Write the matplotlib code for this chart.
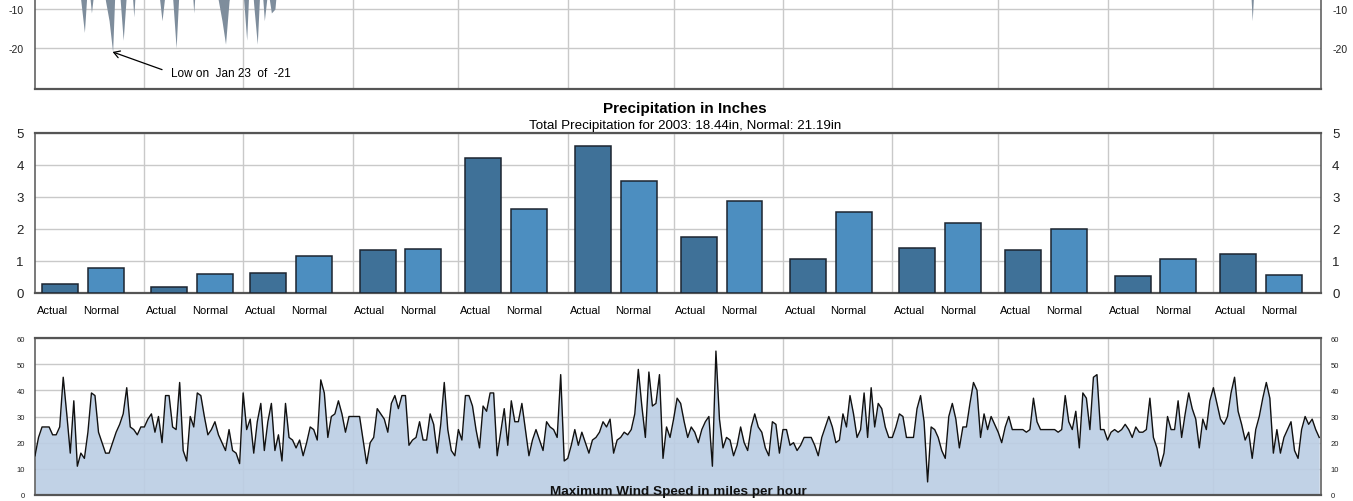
import numpy as np
import matplotlib
matplotlib.use("Agg")
import matplotlib.pyplot as plt

plt.rcParams['font.family'] = ['Liberation Sans', 'DejaVu Sans']
plt.rcParams['axes.unicode_minus'] = False

# ---------------------------------------------------------------- data
month_days = [31, 28, 31, 30, 31, 30, 31, 31, 30, 31, 30, 31]

# Daily low temperatures (deg F) for the cold part of the year
jan_lows = [2, 0, -3, 1, -2, 0, 3, -1, 2, -4, -1, -5, 0, -8, -16, -2, -11, -3, 0, -2,
            -8, -13, -21, 3, -6, -18, -5, 2, -12, 3, 1]
feb_lows = [0, -4, 2, -1, -5, -13, -5, 0, -7, -20, -2, 4, 1, 3, -11, 3, 5, 0, -3, 2,
            -3, -8, -13, -19, -8, -2, 1, -2]
mar_lows = [-6, -18, 3, -9, -19, 0, -13, -5, -11, -10, 0, 2, 5, 8, 3, 10, 12, 6, 9, 14,
            11, 15, 18, 13, 16, 20, 17, 22, 19, 24, 21]
dec_lows = [12, 8, 15, 10, 6, 3, 9, 14, 7, 2, 5, -13, 4, 10, 16, 12, 8, 11, 18, 14,
            9, 5, 1, 7, 13, 17, 10, 6, 12, 15, 9]
record_low_label = "Low on  Jan 23  of  -21"
record_low_day = 22      # Jan 23, zero-based day of year
record_low_value = -21

# Monthly precipitation (inches)
precip_actual = [0.28, 0.18, 0.64, 1.35, 4.23, 4.58, 1.74, 1.07, 1.41, 1.35, 0.53, 1.21]
precip_normal = [0.79, 0.60, 1.16, 1.37, 2.62, 3.51, 2.87, 2.53, 2.20, 1.99, 1.07, 0.57]
precip_total = 18.44
precip_total_normal = 21.19
precip_year = 2003

# Daily maximum wind speed (mph)
jan_wind = [15, 22, 26, 26, 26, 23, 23, 26, 45, 31, 16, 36, 11, 16, 14, 24, 39, 38, 24, 20,
            16, 16, 20, 24, 27, 31, 41, 26, 25, 23, 26]
feb_wind = [26, 29, 31, 24, 30, 20, 38, 38, 26, 25, 43, 17, 13, 30, 26, 39, 38, 30, 23, 25,
            28, 23, 20, 17, 25, 17, 16, 12]
mar_wind = [39, 25, 29, 16, 28, 35, 17, 28, 35, 17, 23, 13, 35, 22, 21, 18, 21, 15, 20, 26,
            25, 21, 44, 39, 22, 30, 31, 36, 31, 24, 30]
apr_wind = [30, 30, 30, 21, 12, 20, 22, 33, 31, 29, 24, 35, 38, 33, 38, 38, 19, 21, 22, 28,
            21, 21, 31, 27, 16, 27, 43, 25, 17, 15]
may_wind = [25, 21, 38, 38, 34, 25, 18, 34, 32, 39, 39, 15, 24, 33, 19, 36, 28, 28, 35, 25,
            15, 21, 25, 21, 17, 28, 26, 25, 22, 46, 13]
jun_wind = [14, 19, 25, 19, 24, 20, 16, 21, 22, 24, 28, 26, 29, 16, 21, 22, 24, 23, 25, 31,
            48, 34, 22, 47, 34, 35, 46, 14, 26, 22]
jul_wind = [29, 37, 35, 28, 22, 26, 24, 20, 25, 28, 30, 11, 55, 29, 18, 22, 21, 15, 19, 26,
            20, 17, 26, 31, 26, 24, 18, 15, 28, 27, 16]
aug_wind = [25, 25, 19, 20, 17, 19, 22, 22, 22, 19, 15, 22, 26, 30, 26, 20, 21, 31, 26, 38,
            31, 22, 25, 39, 22, 41, 26, 35, 33, 26, 22]
sep_wind = [22, 26, 31, 30, 22, 22, 22, 33, 38, 28, 5, 26, 25, 22, 17, 14, 30, 35, 29, 18,
            26, 26, 35, 43, 40, 22, 31, 25, 30, 27]
oct_wind = [24, 20, 26, 30, 25, 25, 25, 25, 24, 25, 37, 28, 25, 25, 25, 25, 25, 24, 25, 38,
            28, 25, 32, 18, 39, 37, 25, 45, 46, 25, 25]
nov_wind = [21, 24, 25, 24, 25, 27, 25, 22, 26, 24, 24, 25, 37, 22, 18, 11, 16, 30, 25, 25,
            36, 22, 31, 39, 33, 29, 18, 29, 25, 36]
dec_wind = [41, 35, 29, 27, 30, 39, 45, 32, 27, 21, 24, 14, 25, 30, 37, 43, 37, 16, 25, 16,
            22, 25, 28, 17, 14, 25, 30, 27, 29, 25, 22]

# ---------------------------------------------------------------- styling
C_TEMP = '#7e8d9c'
C_ACTUAL = '#3f7198'
C_NORMAL = '#4c8ec0'
C_EDGE = '#1c2530'
C_WIND_FILL = '#bccee4'
C_GRID = '#c9c9c9'
C_SPINE = '#555555'

W, H = 1353, 502
fig = plt.figure(figsize=(W / 100, H / 100), dpi=100)
fig.patch.set_facecolor('white')


def panel(left, top, right, bottom):
    return fig.add_axes([left / W, 1 - bottom / H, (right - left) / W, (bottom - top) / H])


month_starts = np.concatenate([[0], np.cumsum(month_days)[:-1]])
XMAX = 364.5


def base_style(ax, ylim, yticks, labelsize, pad, weight='normal'):
    ax.set_xlim(0, XMAX)
    ax.set_ylim(*ylim)
    ax.set_xticks(month_starts[1:])
    ax.set_yticks(yticks)
    ax.tick_params(axis='x', length=0, labelbottom=False)
    ax.tick_params(axis='y', length=0, left=False, right=False,
                   labelleft=True, labelright=True, labelsize=labelsize, pad=pad,
                   labelcolor='#222222')
    for lab in ax.get_yticklabels():
        lab.set_fontweight(weight)
    ax.grid(True, color=C_GRID, linewidth=1.0)
    ax.set_axisbelow(True)
    for side, sp in ax.spines.items():
        sp.set_color(C_SPINE)
        sp.set_linewidth(1.6 if side in ('top', 'bottom') else 1.1)


# ---------------------------------------------------------------- temperature (lower part)
ax_t = panel(35, 90 - 30.5 * 3.9, 1321, 90)
base_style(ax_t, (-30.5, 0), [-10, -20], 7.5, 8.5)
winter = np.array(jan_lows + feb_lows + mar_lows, dtype=float)
winter_days = np.arange(len(winter))
dec_arr = np.array(dec_lows, dtype=float)
dec_days = month_starts[11] + np.arange(len(dec_arr))
ax_t.fill_between(winter_days, winter, 0, color=C_TEMP, linewidth=0, zorder=2)
ax_t.fill_between(dec_days, dec_arr, 0, color=C_TEMP, linewidth=0, zorder=2)
ax_t.annotate(record_low_label, xy=(record_low_day, record_low_value),
              xytext=(42.3, -17.3), textcoords='offset points',
              ha='left', va='baseline', fontsize=8.5, color='black',
              arrowprops=dict(arrowstyle='->,head_length=0.5,head_width=0.3',
                              color='black', lw=0.9, shrinkA=5, shrinkB=0,
                              relpos=(0, 0.5)))

# ---------------------------------------------------------------- precipitation
ax_p = panel(35, 134, 1321, 294)
base_style(ax_p, (0, 5), [0, 1, 2, 3, 4, 5], 9.5, 8.0)
bar_w = 10.2
x_act = month_starts + 7.1
x_nor = month_starts + 20.1
ax_p.bar(x_act, precip_actual, width=bar_w, color=C_ACTUAL, edgecolor=C_EDGE,
         linewidth=1.1, zorder=3)
ax_p.bar(x_nor, precip_normal, width=bar_w, color=C_NORMAL, edgecolor=C_EDGE,
         linewidth=1.1, zorder=3)
for xa, xn in zip(x_act, x_nor):
    for xc, lab in ((xa, 'Actual'), (xn, 'Normal')):
        ax_p.annotate(lab, xy=(xc - bar_w / 2, 0), xycoords=('data', 'axes fraction'),
                      xytext=(-3.8, -14.6), textcoords='offset points',
                      ha='left', va='baseline', fontsize=8, color='black')

fig.text(685 / W, 1 - 113.0 / H, 'Precipitation in Inches', ha='center', va='baseline',
         fontsize=11, fontweight='bold', color='black')
fig.text(685 / W, 1 - 128.5 / H,
         f'Total Precipitation for {precip_year}: {precip_total:.2f}in, '
         f'Normal: {precip_total_normal:.2f}in',
         ha='center', va='baseline', fontsize=9.6, color='black')

# ---------------------------------------------------------------- wind
ax_w = panel(35, 339, 1321, 496)
base_style(ax_w, (0, 60), [0, 10, 20, 30, 40, 50, 60], 5.5, 7.0)
wind = np.array(jan_wind + feb_wind + mar_wind + apr_wind + may_wind + jun_wind +
                jul_wind + aug_wind + sep_wind + oct_wind + nov_wind + dec_wind, dtype=float)
wind_days = np.arange(len(wind))
ax_w.fill_between(wind_days, wind, 0, color=C_WIND_FILL, alpha=0.92, linewidth=0, zorder=2)
ax_w.plot(wind_days, wind, color='#111111', linewidth=1.0, zorder=3)
ax_w.text(0.5, 0.006, 'Maximum Wind Speed in miles per hour', transform=ax_w.transAxes,
          ha='center', va='baseline', fontsize=9.7, fontweight='bold', color='#111111',
          zorder=5)

fig.savefig('out.png', dpi=100, facecolor='white')
